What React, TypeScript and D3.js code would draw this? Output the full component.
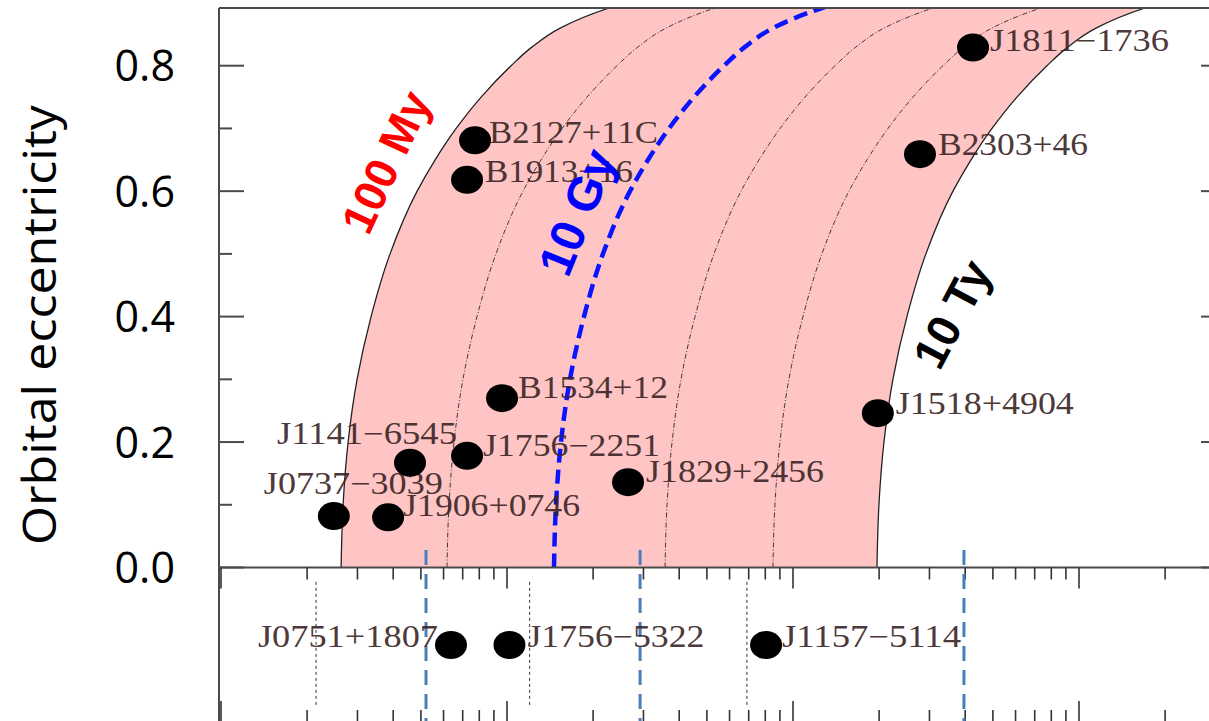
import React from 'react';
import * as d3 from 'd3';

const W = 1209;
const H = 721;

// Double neutron star systems with measured eccentricity: orbital period (hours), eccentricity
const pulsarNames = ['J0737−3039', 'J1906+0746', 'J1141−6545', 'J1756−2251', 'B1534+12', 'J1829+2456', 'J1518+4904', 'B1913+16', 'B2127+11C', 'B2303+46', 'J1811−1736'];
const pulsarPeriods = [2.48, 3.84, 4.58, 7.25, 9.61, 26.5, 198, 7.25, 7.73, 278, 426];
const pulsarEcc = [0.082, 0.080, 0.167, 0.178, 0.270, 0.136, 0.246, 0.618, 0.681, 0.659, 0.829];

// Lower panel systems (period in hours)
const lowerNames = ['J0751+1807', 'J1756−5322', 'J1157−5114'];
const lowerPeriods = [6.37, 10.2, 80.5];
const lowerDottedPeriods = [2.15, 12.0, 69.0];
const blueMarkerPeriods = [5.21, 29.2, 396];

// Merger-time contours: period at zero eccentricity (hours)
const contourTimes = ['100 My', '1 Gy', '10 Gy', '100 Gy', '1 Ty', '10 Ty'];
const contourBasePeriods = [2.63, 6.17, 14.6, 35.7, 85.1, 196.6];
// contour shape: eccentricity vs period multiplier
const shapeEcc = [0, 0.1, 0.2, 0.3, 0.4, 0.5, 0.6, 0.65, 0.7, 0.75, 0.8, 0.83, 0.86, 0.892, 0.92];
const shapeFactor = [1.0, 1.016, 1.058, 1.137, 1.273, 1.483, 1.844, 2.132, 2.525, 3.087, 3.93, 4.654, 5.833, 8.65, 14.26];

const yMajorTicks = [0, 0.2, 0.4, 0.6, 0.8];
const yMinorTicks = [0.1, 0.3, 0.5, 0.7];

// layout (label offsets from marker: dx, dy to baseline, text length)
const labelLayout: Record<string, [number, number, number]> = {
  'J0737−3039': [-70, -22, 179],
  'J1906+0746': [15, -1, 177],
  'J1141−6545': [-133, -19, 180],
  'J1756−2251': [16, 0, 177],
  'B1534+12': [16, 0, 150],
  'J1829+2456': [18, 0, 178],
  'J1518+4904': [18, 1, 178],
  'B1913+16': [18, 2, 148],
  'B2127+11C': [14, 3, 169],
  'B2303+46': [18, 1, 150],
  'J1811−1736': [17, 3, 179],
  'J0751+1807': [-193, 2, 180],
  'J1756−5322': [18, 2, 177],
  'J1157−5114': [16, 2, 179],
};

const annotations = [
  { text: '100 My', cx: 386, cy: 162, angle: -65, size: 45, color: '#ff0000' },
  { text: '10 Gy', cx: 577, cy: 212, angle: -68, size: 48, color: '#0000ff' },
  { text: '10 Ty', cx: 952, cy: 314, angle: -62, size: 46, color: '#000000' },
];

const left = 219;
const right = 1226;
const top = 8;
const mid = 567.5;
const bottom = 722;

export default function App() {
  const x = d3.scaleLog().domain([1, 1000]).range([221, 1079]);
  const xMax = x.invert(right);
  const y = d3.scaleLinear().domain([0, 0.892]).range([mid, top]);
  const yLow = d3.scaleLinear().domain([0, 1]).range([568, bottom]);

  const shape = shapeEcc.map((e, i) => ({ e, f: shapeFactor[i] }));
  const line = d3
    .line<{ e: number; f: number }>()
    .curve(d3.curveMonotoneY);

  const contourPath = (p0: number) =>
    line.x((d) => x(p0 * d.f)).y((d) => y(d.e))(shape) || '';

  const p0L = contourBasePeriods[0];
  const p0R = contourBasePeriods[contourBasePeriods.length - 1];
  const area = d3
    .area<{ e: number; f: number }>()
    .curve(d3.curveMonotoneY)
    .y((d) => y(d.e))
    .x0((d) => x(p0L * d.f))
    .x1((d) => x(p0R * d.f));

  const xTicks = x.copy().domain([1, xMax]).ticks();
  const isMajor = (t: number) => Math.abs(Math.log10(t) - Math.round(Math.log10(t))) < 1e-9;

  const labelFont = '"Liberation Serif", "DejaVu Serif", serif';
  const labelColor = '#3a2424';
  const frameColor = '#4a4a4a';

  return (
    <svg
      width={W}
      height={H}
      viewBox={`0 0 ${W} ${H}`}
      style={{ position: 'absolute', left: 0, top: 0, background: '#ffffff' }}
    >
      <defs>
        <clipPath id="mainClip">
          <rect x={left} y={top} width={right - left} height={mid - top} />
        </clipPath>
      </defs>

      {/* pink band between 100 My and 10 Ty */}
      <g clipPath="url(#mainClip)">
        <path d={area(shape) || ''} fill="#ffc5c5" stroke="none" />
        {contourBasePeriods.map((p0, i) => {
          if (i === 0 || i === contourBasePeriods.length - 1) return null;
          if (contourTimes[i] === '10 Gy') return null;
          return (
            <path
              key={'c' + i}
              d={contourPath(p0)}
              fill="none"
              stroke="#2a2a2a"
              strokeWidth={0.9}
              strokeDasharray="5,2,1,2"
            />
          );
        })}
        <path
          d={contourPath(contourBasePeriods[2])}
          fill="none"
          stroke="#0a14ff"
          strokeWidth={4.5}
          strokeDasharray="14,7"
        />
        <path d={contourPath(p0L)} fill="none" stroke="#222" strokeWidth={1.3} />
        <path d={contourPath(p0R)} fill="none" stroke="#222" strokeWidth={1.3} />
      </g>

      {/* frame */}
      <line x1={left} y1={top} x2={left} y2={H} stroke={frameColor} strokeWidth={2} />
      <line x1={left} y1={top} x2={right} y2={top} stroke={frameColor} strokeWidth={2} />
      <line x1={right} y1={top} x2={right} y2={H} stroke={frameColor} strokeWidth={2} />
      <line x1={left} y1={mid} x2={right} y2={mid} stroke={frameColor} strokeWidth={2} />
      <line x1={left} y1={bottom} x2={right} y2={bottom} stroke={frameColor} strokeWidth={2} />

      {/* y ticks */}
      {yMajorTicks.map((t) => (
        <g key={'ym' + t}>
          <line x1={left} x2={left + 25} y1={y(t)} y2={y(t)} stroke={frameColor} strokeWidth={2} />
          <line x1={right} x2={right - 25} y1={y(t)} y2={y(t)} stroke={frameColor} strokeWidth={2} />
          <text
            x={175}
            y={y(t)}
            dy="0.36em"
            textAnchor="end"
            fontFamily='"Open Sans", "Noto Sans", sans-serif'
            fontSize={43}
            fill="#000"
          >
            {t.toFixed(1)}
          </text>
        </g>
      ))}
      {yMinorTicks.map((t) => (
        <g key={'yn' + t}>
          <line x1={left} x2={left + 13} y1={y(t)} y2={y(t)} stroke={frameColor} strokeWidth={2} />
          <line x1={right} x2={right - 13} y1={y(t)} y2={y(t)} stroke={frameColor} strokeWidth={2} />
        </g>
      ))}

      {/* x ticks (log) on lower panel */}
      {xTicks.map((t, i) => {
        const len = isMajor(t) ? 21 : 12;
        const xx = x(t);
        return (
          <g key={'xt' + i}>
            <line x1={xx} x2={xx} y1={mid} y2={mid + len} stroke="#333" strokeWidth={1.6} />
            <line x1={xx} x2={xx} y1={bottom} y2={bottom - len} stroke="#333" strokeWidth={1.6} />
          </g>
        );
      })}

      {/* lower panel dotted markers */}
      {lowerDottedPeriods.map((p, i) => (
        <line
          key={'ld' + i}
          x1={x(p)}
          x2={x(p)}
          y1={yLow(0.09)}
          y2={yLow(0.9)}
          stroke="#333"
          strokeWidth={1}
          strokeDasharray="3,3"
        />
      ))}

      {/* blue vertical dashed markers */}
      {blueMarkerPeriods.map((p, i) => (
        <line
          key={'bv' + i}
          x1={x(p)}
          x2={x(p)}
          y1={550}
          y2={H}
          stroke="#4a7ebb"
          strokeWidth={3}
          strokeDasharray="15,9"
        />
      ))}

      {/* main panel pulsars */}
      {pulsarNames.map((name, i) => {
        const cx = x(pulsarPeriods[i]);
        const cy = y(pulsarEcc[i]);
        const [dx, dy, len] = labelLayout[name];
        return (
          <g key={name}>
            <ellipse cx={cx} cy={cy} rx={16} ry={14} fill="#000" />
            <text
              x={cx + dx}
              y={cy + dy}
              fontFamily={labelFont}
              fontSize={31}
              fill={labelColor}
              textLength={len}
              lengthAdjust="spacingAndGlyphs"
              opacity={0.9}
            >
              {name}
            </text>
          </g>
        );
      })}

      {/* lower panel pulsars */}
      {lowerNames.map((name, i) => {
        const cx = x(lowerPeriods[i]);
        const cy = yLow(0.5);
        const [dx, dy, len] = labelLayout[name];
        return (
          <g key={name}>
            <ellipse cx={cx} cy={cy} rx={16} ry={14} fill="#000" />
            <text
              x={cx + dx}
              y={cy + dy}
              fontFamily={labelFont}
              fontSize={31}
              fill={labelColor}
              textLength={len}
              lengthAdjust="spacingAndGlyphs"
              opacity={0.9}
            >
              {name}
            </text>
          </g>
        );
      })}

      {/* rotated merger-time annotations */}
      {annotations.map((a) => (
        <text
          key={a.text}
          x={0}
          y={0}
          transform={`translate(${a.cx},${a.cy}) rotate(${a.angle})`}
          textAnchor="middle"
          dy="0.35em"
          fontFamily='"Liberation Sans", Arial, sans-serif'
          fontWeight="bold"
          fontSize={a.size}
          fill={a.color}
        >
          {a.text}
        </text>
      ))}

      {/* y axis title */}
      <text
        transform={`translate(40,325) rotate(-90)`}
        textAnchor="middle"
        dy="0.35em"
        fontFamily='"Open Sans", "Noto Sans", sans-serif'
        fontSize={45}
        textLength={440}
        lengthAdjust="spacingAndGlyphs"
        fill="#000"
      >
        Orbital eccentricity
      </text>
    </svg>
  );
}
